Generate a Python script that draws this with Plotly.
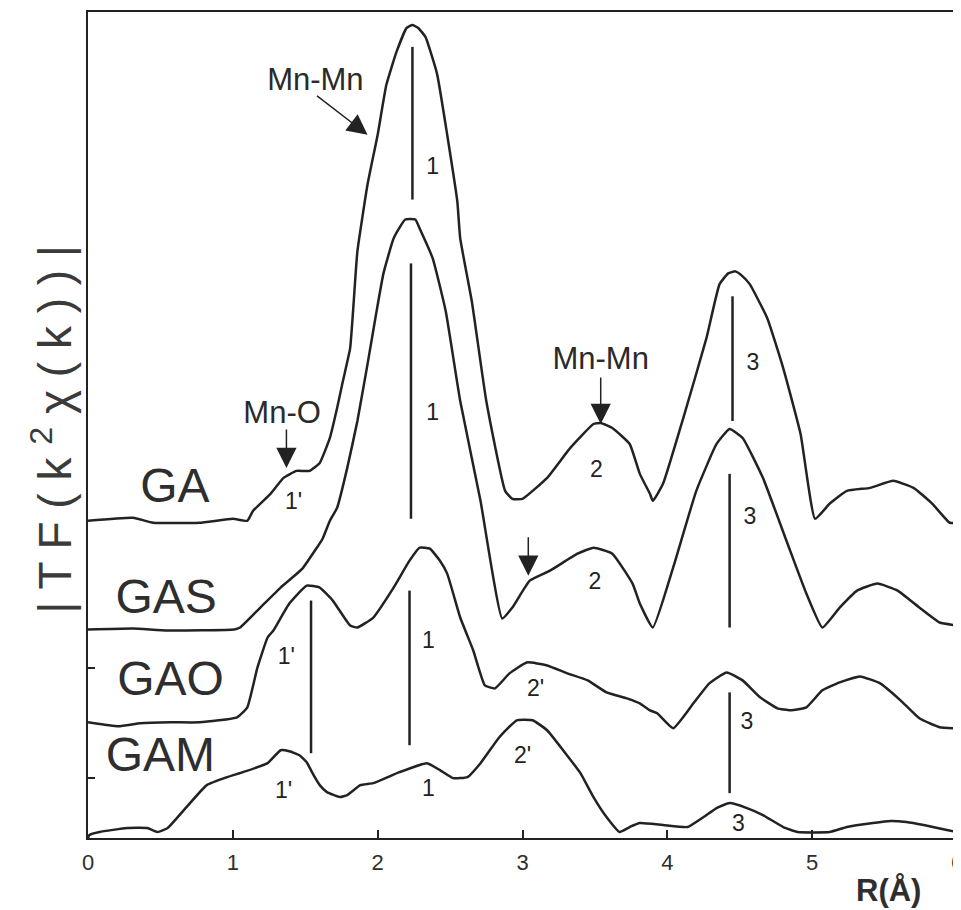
import plotly.graph_objects as go

# ---------------- data (R in Angstrom, |FT| in arbitrary offset units) ----------------
R_GA = [0.00, 0.31, 0.45, 0.77, 1.00, 1.10, 1.14, 1.26, 1.35, 1.44, 1.53, 1.60, 1.67, 1.72,
        1.76, 1.81, 1.83, 1.86, 1.93, 2.00, 2.06, 2.13, 2.20, 2.24, 2.28, 2.33, 2.41, 2.48,
        2.55, 2.57, 2.65, 2.75, 2.88, 2.93, 3.00, 3.17, 3.33, 3.49, 3.54, 3.62, 3.74, 3.81,
        3.88, 3.90, 3.97, 4.11, 4.27, 4.36, 4.42, 4.47, 4.52, 4.57, 4.69, 4.80, 4.92, 5.02,
        5.12, 5.24, 5.40, 5.56, 5.70, 5.83, 5.95, 6.00]
I_GA = [3.18, 3.21, 3.16, 3.16, 3.20, 3.18, 3.28, 3.45, 3.61, 3.68, 3.68, 3.76, 4.01, 4.31,
        4.58, 4.91, 5.28, 5.88, 6.55, 7.05, 7.55, 7.88, 8.12, 8.15, 8.12, 8.03, 7.66, 7.05,
        6.38, 6.01, 5.38, 4.38, 3.48, 3.40, 3.40, 3.61, 3.91, 4.15, 4.16, 4.11, 3.95, 3.65,
        3.45, 3.38, 3.55, 4.21, 5.01, 5.55, 5.66, 5.68, 5.63, 5.55, 5.21, 4.71, 4.05, 3.20,
        3.35, 3.48, 3.51, 3.58, 3.51, 3.35, 3.16, 3.16]

R_GAS = [0.00, 0.31, 0.55, 1.01, 1.05, 1.19, 1.33, 1.48, 1.58, 1.62, 1.67, 1.72, 1.79, 1.86,
         1.93, 1.99, 2.04, 2.11, 2.19, 2.26, 2.29, 2.38, 2.47, 2.57, 2.71, 2.86, 2.93, 3.05,
         3.19, 3.38, 3.49, 3.62, 3.76, 3.81, 3.90, 4.04, 4.20, 4.34, 4.43, 4.52, 4.66, 4.83,
         4.96, 5.07, 5.19, 5.31, 5.45, 5.59, 5.74, 5.88, 6.00]
I_GAS = [2.09, 2.10, 2.08, 2.09, 2.11, 2.31, 2.51, 2.70, 2.91, 3.00, 3.18, 3.31, 3.71, 4.18,
         4.75, 5.26, 5.66, 6.01, 6.20, 6.20, 6.11, 5.81, 5.28, 4.38, 3.38, 2.20, 2.31, 2.58,
         2.68, 2.85, 2.91, 2.85, 2.55, 2.35, 2.11, 2.71, 3.48, 3.95, 4.10, 4.01, 3.61, 2.95,
         2.45, 2.11, 2.31, 2.48, 2.55, 2.48, 2.31, 2.16, 2.13]

R_GAO = [0.00, 0.21, 0.36, 0.57, 0.77, 1.03, 1.10, 1.17, 1.24, 1.28, 1.39, 1.51, 1.60, 1.69,
         1.81, 1.86, 1.97, 2.11, 2.22, 2.29, 2.36, 2.43, 2.48, 2.57, 2.66, 2.74, 2.81, 2.91,
         3.03, 3.17, 3.31, 3.45, 3.58, 3.72, 3.81, 3.88, 3.93, 4.04, 4.18, 4.29, 4.41, 4.52,
         4.64, 4.76, 4.85, 4.96, 5.07, 5.19, 5.33, 5.47, 5.61, 5.74, 5.88, 6.00]
I_GAO = [1.16, 1.12, 1.15, 1.16, 1.16, 1.21, 1.31, 1.71, 2.01, 2.08, 2.35, 2.53, 2.51, 2.38,
         2.13, 2.11, 2.21, 2.51, 2.78, 2.91, 2.90, 2.78, 2.65, 2.21, 1.88, 1.53, 1.50, 1.65,
         1.76, 1.73, 1.65, 1.58, 1.46, 1.40, 1.35, 1.28, 1.25, 1.10, 1.35, 1.55, 1.66, 1.58,
         1.41, 1.30, 1.28, 1.31, 1.48, 1.56, 1.62, 1.55, 1.38, 1.20, 1.11, 1.10]

R_GAM = [0.00, 0.01, 0.08, 0.27, 0.41, 0.48, 0.55, 0.68, 0.82, 0.96, 1.07, 1.24, 1.33, 1.39,
         1.46, 1.51, 1.55, 1.60, 1.65, 1.74, 1.79, 1.88, 1.97, 2.15, 2.34, 2.43, 2.52, 2.62,
         2.71, 2.84, 2.96, 3.07, 3.17, 3.28, 3.40, 3.49, 3.58, 3.67, 3.74, 3.81, 3.97, 4.14,
         4.25, 4.34, 4.43, 4.55, 4.66, 4.80, 4.90, 5.12, 5.24, 5.42, 5.54, 5.65, 5.77, 5.93, 6.00]
I_GAM = [0.00, 0.03, 0.06, 0.10, 0.10, 0.06, 0.10, 0.31, 0.53, 0.61, 0.66, 0.75, 0.88, 0.87,
         0.83, 0.76, 0.65, 0.53, 0.46, 0.41, 0.43, 0.53, 0.55, 0.66, 0.75, 0.68, 0.60, 0.61,
         0.75, 1.01, 1.18, 1.18, 1.08, 0.88, 0.65, 0.41, 0.21, 0.06, 0.11, 0.15, 0.13, 0.11,
         0.21, 0.30, 0.35, 0.30, 0.23, 0.11, 0.06, 0.06, 0.11, 0.15, 0.17, 0.16, 0.13, 0.08, 0.06]

# vertical peak-position markers
marker_R = [2.24, 2.23, 2.22, 1.54, 4.45, 4.43, 4.43]
marker_lo = [6.40, 3.20, 0.93, 0.85, 4.18, 2.11, 0.45]
marker_hi = [7.93, 5.76, 2.48, 2.38, 5.43, 3.65, 1.46]

# peak labels
peak_text = ["1", "1", "1", "1", "1'", "1'", "1'", "2", "2", "2'", "2'", "3", "3", "3", "3"]
peak_R = [2.38, 2.38, 2.35, 2.35, 1.42, 1.37, 1.35, 3.51, 3.50, 3.09, 3.00, 4.59, 4.57, 4.55, 4.49]
peak_I = [6.71, 4.25, 1.96, 0.48, 3.36, 1.80, 0.46, 3.68, 2.55, 1.48, 0.81, 4.75, 3.21, 1.15, 0.13]

# sample names
sample_names = ["GA", "GAS", "GAO", "GAM"]
sample_R = [0.60, 0.54, 0.57, 0.50]
sample_I = [3.49, 2.38, 1.55, 0.79]

# bond annotations (text) and arrows
bond_text = ["Mn-Mn", "Mn-O", "Mn-Mn"]
bond_R = [1.57, 1.34, 3.54]
bond_I = [7.58, 4.24, 4.78]
arrow_R = [1.93, 1.37, 3.54, 3.04]
arrow_I = [7.05, 3.71, 4.15, 2.63]
arrow_dx = [-52, 0, 0, 0]
arrow_dy = [-40, -40, -48, -40]

x_ticks = [0, 1, 2, 3, 4, 5, 6]
y_ticks = [0.6, 1.7]

INK = "#222222"
FONT = "Liberation Sans, Arial, sans-serif"

fig = go.Figure()
for R, I in [(R_GA, I_GA), (R_GAS, I_GAS), (R_GAO, I_GAO), (R_GAM, I_GAM)]:
    fig.add_trace(go.Scatter(x=R, y=I, mode="lines",
                             line=dict(color=INK, width=2.5, shape="spline", smoothing=0.4),
                             hoverinfo="skip", showlegend=False))

mx, my = [], []
for r, lo, hi in zip(marker_R, marker_lo, marker_hi):
    mx += [r, r, None]
    my += [lo, hi, None]
fig.add_trace(go.Scatter(x=mx, y=my, mode="lines", line=dict(color=INK, width=2.5),
                         hoverinfo="skip", showlegend=False))

fig.add_trace(go.Scatter(x=peak_R, y=peak_I, mode="text", text=peak_text,
                         textfont=dict(family=FONT, size=23, color=INK),
                         hoverinfo="skip", showlegend=False))

fig.add_trace(go.Scatter(x=sample_R, y=sample_I, mode="text", text=sample_names,
                         textfont=dict(family=FONT, size=48, color="#2e2e2e"),
                         hoverinfo="skip", showlegend=False))

fig.add_trace(go.Scatter(x=bond_R, y=bond_I, mode="text", text=bond_text,
                         textfont=dict(family=FONT, size=31, color="#2a2a2a"),
                         hoverinfo="skip", showlegend=False))

annotations = []
for r, i, dx, dy in zip(arrow_R, arrow_I, arrow_dx, arrow_dy):
    annotations.append(dict(x=r, y=i, xref="x", yref="y", text="", showarrow=True,
                            ax=dx, ay=dy, arrowhead=2, arrowsize=2.7, arrowwidth=1.5,
                            arrowcolor=INK))

annotations.append(dict(x=-0.042, y=0.494, xref="paper", yref="paper",
                        text="| T F ( k <sup>2</sup> χ ( k ) ) |", textangle=-90,
                        showarrow=False, xanchor="center", yanchor="middle",
                        font=dict(family=FONT, size=46, color="#3a3a3a")))
annotations.append(dict(x=0.921, y=-0.064, xref="paper", yref="paper",
                        text="<b>R(Å)</b>", showarrow=False, xanchor="center", yanchor="middle",
                        font=dict(family=FONT, size=31, color="#2e2e2e")))

# The page body adds an 8 px offset, so margins are shifted to land the
# plot frame where the reference has it (left 88, top 10, right 957, bottom 838).
fig.update_layout(
    width=961, height=910,
    margin=dict(l=80, r=12, t=2, b=80),
    paper_bgcolor="white", plot_bgcolor="white",
    showlegend=False,
    annotations=annotations,
    xaxis=dict(range=[0, 6], tickvals=x_ticks, ticktext=[str(t) for t in x_ticks],
               ticks="inside", ticklen=8, tickwidth=2, tickcolor=INK,
               showline=True, linewidth=2.2, linecolor=INK, mirror=True,
               showgrid=False, zeroline=False, ticklabelstandoff=3,
               tickfont=dict(family=FONT, size=22, color="#2e2e2e")),
    yaxis=dict(range=[0, 8.28], tickvals=y_ticks, showticklabels=False,
               ticks="inside", ticklen=7, tickwidth=2, tickcolor=INK,
               showline=True, linewidth=2.2, linecolor=INK, mirror=True,
               showgrid=False, zeroline=False),
)

fig.write_html("out.html")
